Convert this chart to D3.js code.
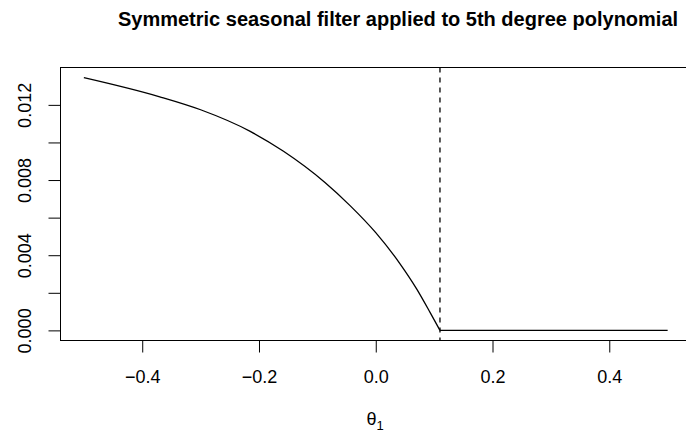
<!DOCTYPE html>
<html>
<head>
<meta charset="utf-8">
<script src="https://cdn.jsdelivr.net/npm/d3@7"></script>
<style>
  html, body { margin: 0; padding: 0; background: #fff; }
  svg { display: block; }
  text { font-family: "Liberation Sans", Arial, Helvetica, sans-serif; fill: #000; }
</style>
</head>
<body>
<svg id="chart" width="686" height="440"></svg>
<script>
// ---- data ----
const titleText = "Symmetric seasonal filter applied to 5th degree polynomial";
const xLabel = "θ";
const xLabelSub = "1";
const curveX = [-0.50, -0.37, -0.30, -0.215, -0.158, -0.087, -0.044, 0.00, 0.041, 0.070, 0.093, 0.11];
const curveY = [0.01345, 0.01243, 0.01174, 0.01059, 0.00953, 0.00787, 0.00664, 0.00520, 0.00357, 0.00221, 0.00096, 0.0];
const flatX = [0.11, 0.50];
const flatY = [0.0, 0.0];
const cutoff = 0.11;
const xTicks = [-0.4, -0.2, 0.0, 0.2, 0.4];
const xTickLabels = ["\u22120.4", "\u22120.2", "0.0", "0.2", "0.4"];
const yTicks = [0, 0.002, 0.004, 0.006, 0.008, 0.010, 0.012];
const yTickLabels = ["0.000", "", "0.004", "", "0.008", "", "0.012"];

// ---- layout ----
const svg = d3.select("#chart");
const plot = { left: 60.5, right: 691, top: 67.5, bottom: 340.5 };

const x = d3.scaleLinear().domain([-0.54, 0.54]).range([plot.left, plot.right]);
const yMax = d3.max(curveY);
const pad = yMax * 0.04;
const y = d3.scaleLinear().domain([-pad, yMax + pad]).range([plot.bottom, plot.top]);

// box
svg.append("rect")
  .attr("x", plot.left).attr("y", plot.top)
  .attr("width", plot.right - plot.left).attr("height", plot.bottom - plot.top)
  .attr("fill", "none").attr("stroke", "#000").attr("stroke-width", 1);

// x axis
const xAxis = d3.axisBottom(x).tickValues(xTicks)
  .tickFormat((d, i) => xTickLabels[i]).tickSize(12).tickPadding(18);
const gx = svg.append("g").attr("transform", `translate(0,${plot.bottom})`).call(xAxis);
gx.select(".domain").attr("d", `M${x(xTicks[0])},0H${x(xTicks[xTicks.length - 1])}`);
gx.selectAll("text").attr("font-size", 18).attr("font-family", "Liberation Sans, Arial, sans-serif");

// y axis
const yAxis = d3.axisLeft(y).tickValues(yTicks)
  .tickFormat((d, i) => yTickLabels[i]).tickSize(12);
const gy = svg.append("g").attr("transform", `translate(${plot.left},0)`).call(yAxis);
gy.select(".domain").attr("d", `M0,${y(yTicks[0])}V${y(yTicks[yTicks.length - 1])}`);
gy.selectAll("text")
  .attr("font-size", 18).attr("font-family", "Liberation Sans, Arial, sans-serif")
  .attr("text-anchor", "middle").attr("dy", null).attr("x", null)
  .attr("transform", "translate(-30,0) rotate(-90)")
  .attr("y", 0);

svg.selectAll(".domain, .tick line").attr("stroke", "#000").attr("stroke-width", 1);

// curve
const line = d3.line().x(d => x(d[0])).y(d => y(d[1]));
svg.append("path")
  .datum(curveX.map((v, i) => [v, curveY[i]]))
  .attr("d", line.curve(d3.curveMonotoneX))
  .attr("fill", "none").attr("stroke", "#000").attr("stroke-width", 1.3);
svg.append("path")
  .datum(flatX.map((v, i) => [v, flatY[i]]))
  .attr("d", d3.line().x(d => x(d[0])).y(d => y(d[1])))
  .attr("fill", "none").attr("stroke", "#000").attr("stroke-width", 1.3);

// cutoff dashed line
svg.append("line")
  .attr("x1", x(cutoff)).attr("x2", x(cutoff))
  .attr("y1", plot.top).attr("y2", plot.bottom)
  .attr("stroke", "#000").attr("stroke-width", 1.3).attr("stroke-dasharray", "5,5");

// title
svg.append("text")
  .attr("x", 398).attr("y", 26)
  .attr("text-anchor", "middle").attr("font-size", 20).attr("font-weight", "bold")
  .text(titleText);

// x label
const xl = svg.append("text")
  .attr("x", 375).attr("y", 425)
  .attr("text-anchor", "middle").attr("font-size", 18);
xl.append("tspan").text(xLabel);
xl.append("tspan").attr("font-size", 13).attr("dy", 5).text(xLabelSub);
</script>
</body>
</html>
